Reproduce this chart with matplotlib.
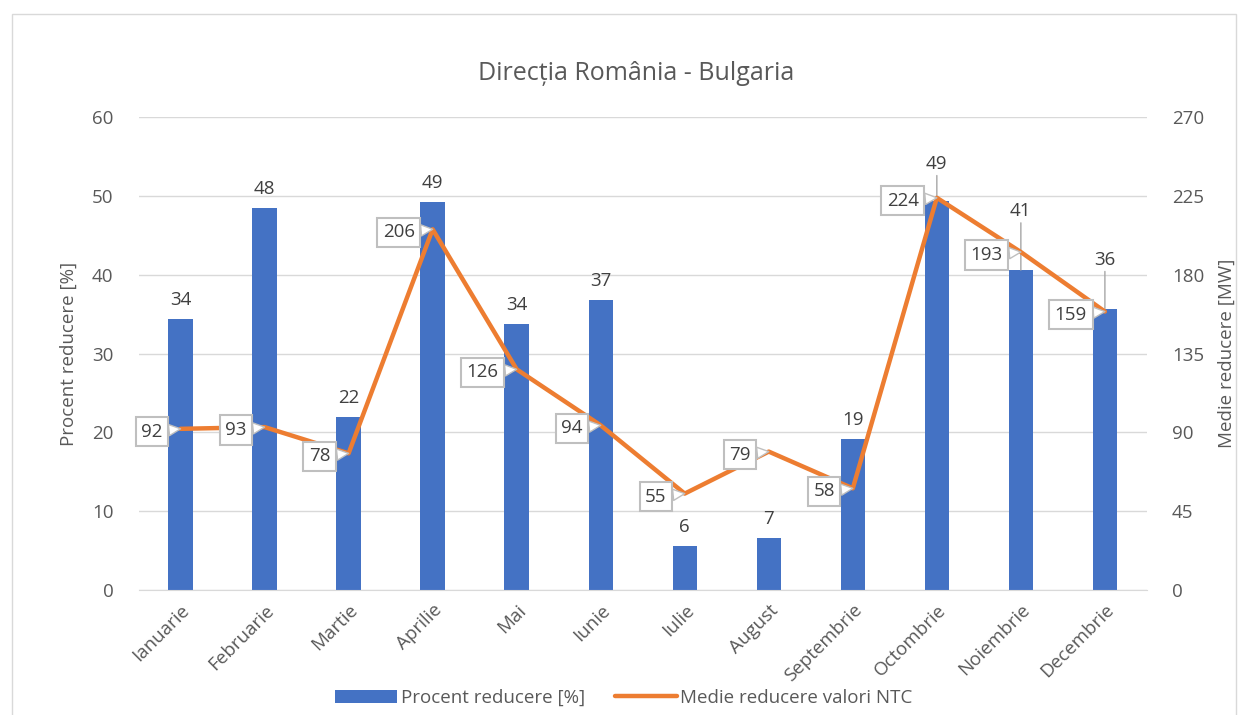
import matplotlib.pyplot as plt
import numpy as np

luni = ['Ianuarie', 'Februarie', 'Martie', 'Aprilie', 'Mai', 'Iunie', 'Iulie',
        'August', 'Septembrie', 'Octombrie', 'Noiembrie', 'Decembrie']
procent = [34.4, 48.5, 21.9, 49.2, 33.8, 36.8, 5.6, 6.6, 19.2, 49.4, 40.6, 35.7]
medie = [92, 93, 78, 206, 126, 94, 55, 79, 58, 224, 193, 159]

plt.rcParams['font.family'] = ['Open Sans', 'DejaVu Sans']
gri = '#595959'
fs = 13.5

fig = plt.figure(figsize=(12.48, 7.15), dpi=100)
ax = fig.add_axes([0.111, 0.175, 0.808, 0.661])
ax2 = ax.twinx()

x = np.arange(len(luni))
ax.bar(x, procent, width=0.29, color='#4472C4', label='Procent reducere [%]', zorder=2)
ax2.plot(x, medie, color='#ED7D31', lw=3.2, label='Medie reducere valori NTC',
         solid_capstyle='round', zorder=3)

ax.set_xlim(-0.5, len(luni) - 0.5)
ax.set_ylim(0, 60)
ax2.set_ylim(0, 270)
ax.set_yticks(range(0, 61, 10))
ax2.set_yticks(range(0, 271, 45))
ax.grid(axis='y', color='#D9D9D9', lw=1, zorder=0)
ax.set_axisbelow(True)
ax.set_zorder(ax2.get_zorder() - 1)
ax2.patch.set_visible(False)
ax.patch.set_visible(False)

for a in (ax, ax2):
    for s in a.spines.values():
        s.set_visible(False)
    a.tick_params(length=0, colors=gri, labelsize=fs)
ax.spines['bottom'].set_visible(True)
ax.spines['bottom'].set_color('#D9D9D9')
ax.tick_params(axis='y', pad=18)
ax2.tick_params(axis='y', pad=18)

ax.set_xticks(x)
ax.set_xticklabels(luni, rotation=45, ha='right', rotation_mode='anchor')
ax.tick_params(axis='x', pad=8)

ax.set_ylabel('Procent reducere [%]', color=gri, fontsize=fs, labelpad=10)
ax2.set_ylabel('Medie reducere [MW]', color=gri, fontsize=fs, labelpad=10)

# etichete bare
for i, v in enumerate(procent):
    if i >= 9:
        ax.annotate(f'{v:.0f}', xy=(i, v), xytext=(0, [28, 50, 40][i - 9]),
                    textcoords='offset pixels', ha='center', va='bottom',
                    color='#404040', fontsize=fs,
                    arrowprops=dict(arrowstyle='-', color='#A6A6A6', lw=1,
                                    shrinkA=0, shrinkB=0))
    else:
        ax.annotate(f'{v:.0f}', xy=(i, v), xytext=(0, 10),
                    textcoords='offset pixels', ha='center', va='bottom',
                    color='#404040', fontsize=fs)

# etichete linie
for i, v in enumerate(medie):
    ax2.annotate(str(v), xy=(i, v), xytext=(-18, -3), textcoords='offset pixels',
                 ha='right', va='center', color='#404040', fontsize=fs,
                 bbox=dict(boxstyle='square,pad=0.3', fc='white', ec='#BFBFBF', lw=1.5),
                 arrowprops=dict(arrowstyle='wedge,tail_width=0.6', fc='white',
                                 ec='#BFBFBF', lw=1, shrinkA=0, shrinkB=0),
                 zorder=5)

fig.suptitle('Direcția România - Bulgaria', x=0.51, y=0.915, fontsize=18, color=gri)

h1, l1 = ax.get_legend_handles_labels()
h2, l2 = ax2.get_legend_handles_labels()
fig.legend(h1 + h2, l1 + l2, loc='lower center', bbox_to_anchor=(0.5, -0.012),
           ncol=2, frameon=False, fontsize=fs, labelcolor=gri,
           handlelength=3.3, handletextpad=0.2, columnspacing=1.6)

fig.add_artist(plt.Rectangle((0.01, -0.02), 0.98, 1.0, transform=fig.transFigure,
                             fill=False, ec='#D9D9D9', lw=1))

fig.savefig('out.png', dpi=100)
